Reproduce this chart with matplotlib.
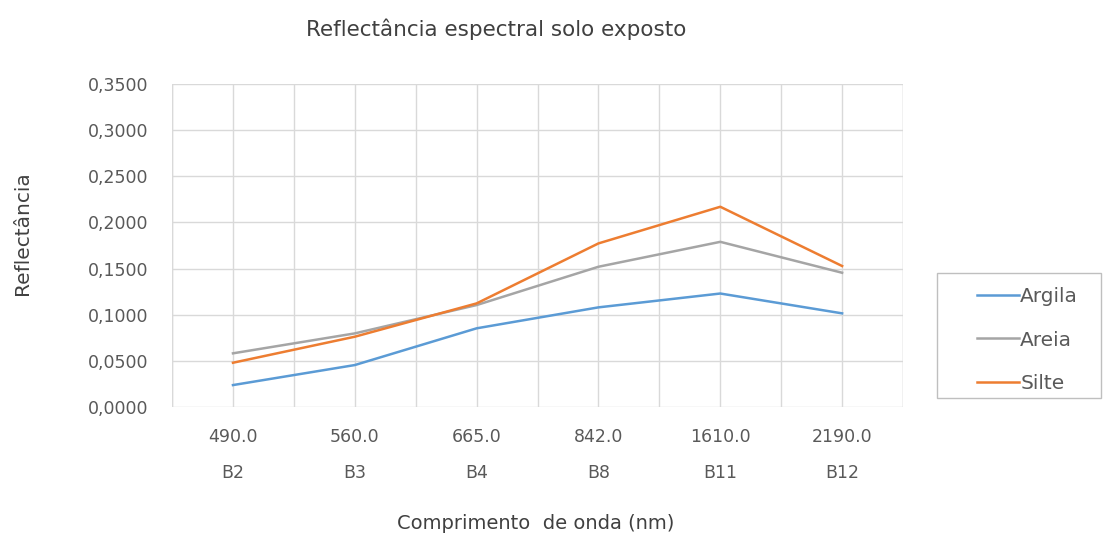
import numpy as np
import matplotlib
matplotlib.use("Agg")
import matplotlib.pyplot as plt
from matplotlib.patches import Rectangle
from matplotlib.ticker import FuncFormatter, MultipleLocator

plt.rcParams['font.family'] = ['DejaVu Sans']

# wavelengths (nm) and Sentinel-2 bands
comprimentos = ["490.0", "560.0", "665.0", "842.0", "1610.0", "2190.0"]
bandas = ["B2", "B3", "B4", "B8", "B11", "B12"]

argila = [0.0238, 0.0455, 0.0853, 0.1080, 0.1230, 0.1015]
areia = [0.0582, 0.0798, 0.1105, 0.1520, 0.1790, 0.1455]
silte = [0.0480, 0.0762, 0.1123, 0.1773, 0.2170, 0.1528]

texto = "#595959"
grade = "#d9d9d9"

fig = plt.figure(figsize=(11.03, 5.42), dpi=100)
ax = fig.add_axes([0.156, 0.249, 0.6627, 0.596])

x = np.arange(len(bandas))
ax.plot(x, argila, color="#5B9BD5", lw=1.8, label="Argila")
ax.plot(x, areia, color="#A5A5A5", lw=1.8, label="Areia")
ax.plot(x, silte, color="#ED7D31", lw=1.8, label="Silte")

ax.set_xlim(-0.5, len(bandas) - 0.5)
ax.set_ylim(0, 0.35)
ax.set_xticks(x)
ax.set_xticklabels([f"{c}\n{b}" for c, b in zip(comprimentos, bandas)],
                   linespacing=2.3, fontsize=12.5, color=texto)
ax.xaxis.set_minor_locator(MultipleLocator(0.5))
ax.yaxis.set_major_locator(MultipleLocator(0.05))
ax.yaxis.set_major_formatter(FuncFormatter(lambda v, p: f"{v:.4f}".replace(".", ",")))
for lab in ax.get_yticklabels():
    lab.set_color(texto)
    lab.set_fontsize(12.5)

ax.tick_params(which="both", length=0)
ax.tick_params(axis="x", pad=15)
ax.tick_params(axis="y", pad=17)
ax.grid(which="both", axis="x", color=grade, lw=1)
ax.grid(which="major", axis="y", color=grade, lw=1)
ax.axvline(-0.5, color=grade, lw=1)
ax.axvline(len(bandas) - 0.5, color=grade, lw=1)
ax.set_axisbelow(True)
for s in ax.spines.values():
    s.set_visible(False)

ax.set_title("Reflectância espectral solo exposto", fontsize=15.5, color="#404040",
             x=0.443, y=1.170, va="center", pad=0)
ax.set_xlabel("Comprimento  de onda (nm)", fontsize=14, color="#404040")
ax.xaxis.set_label_coords(0.497, -0.359)
ax.xaxis.label.set_va("center")
ax.set_ylabel("Reflectância", fontsize=14.5, color="#404040")
ax.yaxis.set_label_coords(-0.205, 0.539)
ax.yaxis.label.set_va("center")

# legend box drawn on the figure, entries without their own frame
fig.patches.append(Rectangle((937 / 1103, 144 / 542), 164 / 1103, 125 / 542,
                             transform=fig.transFigure, facecolor="white",
                             edgecolor="#bfbfbf", lw=1))
leg = fig.legend(loc="center left", bbox_to_anchor=(977 / 1103, 202 / 542),
                 fontsize=14.5, frameon=False, handlelength=2.1,
                 handletextpad=0.05, labelspacing=1.2, borderpad=0,
                 borderaxespad=0)
for t in leg.get_texts():
    t.set_color(texto)

fig.savefig("out.png", dpi=100)
